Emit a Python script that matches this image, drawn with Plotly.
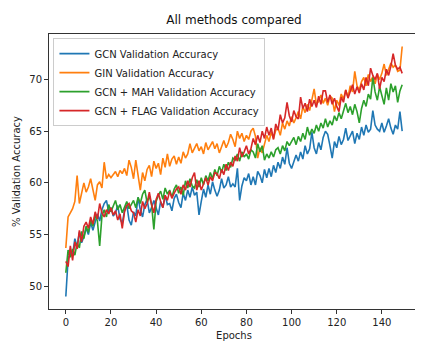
"""
Validation accuracy of four GNN variants over 150 training epochs.
"""

import plotly.graph_objects as go

# x axis: epochs 0..149
epochs = list(range(150))

gcn_acc = [
    49.0, 52.6, 53.4, 53.0, 54.6, 53.8, 55.2, 54.2, 54.8, 55.6,
    55.0, 56.2, 55.4, 56.1, 57.0, 56.3, 57.4, 58.0, 58.3, 57.2,
    57.6, 56.8, 57.1, 57.8, 56.5, 56.1, 57.3, 57.9, 56.4, 55.9,
    57.2, 56.8, 58.6, 57.4, 56.7, 57.9, 58.4, 57.1, 57.6, 58.3,
    57.7, 56.9, 58.2, 57.6, 58.8, 57.9, 58.0, 57.3, 58.5, 58.9,
    58.1, 57.6, 59.0, 58.3, 59.3, 58.6, 59.6, 58.8, 59.1, 56.9,
    58.2, 59.4, 58.6, 59.8, 58.9, 60.1, 59.3, 58.7, 59.3, 60.4,
    59.5, 59.8, 60.6, 59.6, 59.9, 59.6, 61.4, 58.3, 59.7, 60.5,
    60.2, 60.9, 59.8, 60.6, 59.8, 61.1, 60.7, 60.0, 61.3, 60.5,
    61.4, 60.6, 61.7, 61.0, 62.0, 61.4, 62.5, 61.8, 63.4, 61.9,
    61.4, 62.0, 62.7, 62.1, 63.0, 62.3, 63.6, 62.8, 63.3, 64.9,
    63.4, 62.8, 63.9, 63.2, 64.4, 65.0, 64.7, 63.6, 62.4, 64.0,
    63.4, 64.5, 63.7, 64.2, 65.3, 64.1, 64.6, 65.0, 63.8, 64.8,
    64.2, 65.4, 64.6, 65.6, 64.9, 65.2, 67.0, 65.6, 65.2, 65.0,
    65.8, 64.9, 65.5, 66.2, 65.3, 64.7, 65.6, 65.2, 66.9, 65.0,
]

gin_acc = [
    53.7, 56.7, 57.1, 57.5, 58.2, 60.7, 58.0, 59.2, 60.0, 59.1,
    59.6, 60.4, 59.2, 58.3, 59.8, 60.1, 59.5, 62.0, 60.4, 60.8,
    60.5, 60.8, 61.1, 60.6, 61.2, 60.9, 61.4, 60.7, 62.2, 61.5,
    60.4, 62.2, 60.9, 59.3, 61.0, 60.2, 61.3, 61.7, 60.6, 62.1,
    61.4, 61.9, 60.8, 62.4, 61.5, 62.8, 61.6, 62.3, 62.6, 61.8,
    62.5, 61.9, 63.0, 62.4, 62.8, 63.8, 62.9, 63.4, 63.8, 63.1,
    63.5, 62.8, 63.9, 63.2, 63.6, 64.0, 63.3, 63.8, 62.9, 63.6,
    64.1, 63.4, 63.9, 64.7, 64.2, 63.5, 65.0, 64.3, 64.8, 64.0,
    64.6, 64.2, 65.0, 65.3, 64.5, 62.4, 63.4, 62.9, 63.8, 64.6,
    64.0, 64.9, 64.3, 65.1, 65.3, 64.6, 65.8, 65.2, 66.0, 65.5,
    66.4, 65.8, 66.3, 66.9, 66.2, 67.4, 66.8, 67.6, 67.0, 68.0,
    69.1, 67.6, 67.9, 68.5, 67.7, 68.2, 67.5, 68.4, 68.2, 66.9,
    68.0, 67.5, 68.6, 68.1, 69.0, 68.3, 69.4, 68.8, 70.8, 69.4,
    69.0, 69.8, 70.2, 69.4, 70.5, 69.8, 70.3, 69.6, 70.5, 70.0,
    70.6, 71.5, 70.4, 71.0, 71.6, 71.2, 71.4, 70.8, 70.9, 73.2,
]

gcn_mah_acc = [
    51.3, 53.5, 52.8, 53.6, 53.0, 54.2, 53.7, 55.3, 54.6, 55.8,
    55.2, 56.4, 55.8, 56.9, 56.3, 53.9, 56.8, 57.4, 56.7, 57.9,
    57.2, 57.8, 58.3, 57.4, 57.9, 57.1, 57.6, 58.2, 57.5, 57.9,
    58.3, 57.6, 58.6, 58.0, 58.9, 59.3, 58.1, 58.7, 57.9, 55.5,
    58.2, 58.8, 59.2, 58.4, 59.5, 58.9, 59.3, 58.6, 59.4, 59.8,
    59.0, 59.6, 58.8, 60.2, 59.5, 60.4, 59.7, 59.5, 60.3, 59.6,
    60.5, 59.8, 60.7, 60.2, 61.0, 60.4, 61.3, 60.7, 61.6, 61.0,
    61.8, 61.2, 62.0, 61.5, 62.4, 62.2, 62.8, 62.1, 63.0, 62.5,
    62.8, 62.3, 63.2, 63.0, 62.4, 63.8, 63.0, 63.6, 62.2, 62.8,
    62.4, 63.0, 62.5, 63.2, 63.4, 62.8, 63.6, 63.1, 64.0, 63.6,
    64.0, 64.4, 63.7, 64.5, 64.0, 64.8, 64.2, 65.4, 64.6, 65.2,
    64.8, 65.6, 65.0, 65.8, 65.3, 66.2, 65.4, 66.0, 65.6, 66.5,
    66.0, 66.8, 66.2, 67.1, 67.7, 66.8, 67.4, 66.6, 67.6, 66.9,
    65.8, 67.2, 68.0, 67.4, 68.6, 68.1, 70.2, 68.8, 68.0, 69.3,
    68.4, 67.6, 69.2, 68.0, 69.6, 68.8, 69.4, 67.8, 68.9, 69.5,
]

gcn_flag_acc = [
    52.4, 51.9, 53.9, 52.5, 54.3, 53.6, 55.4, 54.3, 55.8, 56.2,
    55.6, 56.7, 56.0, 57.2, 56.5, 58.0, 57.1, 56.7, 57.4, 57.0,
    57.6, 56.9, 57.3, 56.4, 57.0, 55.6, 57.2, 57.8, 58.0, 57.3,
    57.1, 56.2, 57.4, 56.8, 58.2, 57.5, 58.0, 59.1, 57.9, 57.1,
    58.4, 59.0, 58.2, 57.6, 58.8, 58.3, 59.2, 58.5, 59.0, 59.4,
    59.6, 58.9, 59.8, 59.3, 60.2, 59.6, 60.5, 61.0, 59.3, 60.2,
    59.3, 60.0, 60.5, 59.8, 60.6, 60.2, 61.0, 60.9, 60.4, 61.3,
    60.8, 61.8, 61.2, 62.0, 61.6, 62.6, 62.1, 63.4, 62.5, 63.0,
    63.6, 62.8, 63.3, 64.3, 63.7, 64.6, 63.9, 65.0, 64.3, 65.4,
    64.6, 65.3, 64.2, 65.7, 65.1, 66.6, 65.8, 66.3, 67.8, 66.5,
    65.9, 67.0, 66.4, 66.2, 68.3, 67.2, 67.7, 66.9, 68.1, 67.4,
    68.0, 67.3, 68.4, 67.6, 68.9, 68.9, 67.8, 68.5, 67.6, 68.2,
    67.4, 66.9, 68.3, 67.8, 69.0, 68.2, 68.8, 69.5, 68.6, 69.3,
    68.7, 69.6, 69.0, 70.2, 69.4, 71.1, 70.4, 70.0, 70.6, 69.1,
    70.2, 69.8, 71.0, 70.4, 71.3, 72.5, 71.4, 71.0, 71.2, 70.6,
]

series_names = [
    "GCN Validation Accuracy",
    "GIN Validation Accuracy",
    "GCN + MAH Validation Accuracy",
    "GCN + FLAG Validation Accuracy",
]
series_values = [gcn_acc, gin_acc, gcn_mah_acc, gcn_flag_acc]
# matplotlib tab10 default cycle
colors = ["#1f77b4", "#ff7f0e", "#2ca02c", "#d62728"]

x_ticks = [0, 20, 40, 60, 80, 100, 120, 140]
y_ticks = [50, 55, 60, 65, 70]

fig = go.Figure()
for name, values, color in zip(series_names, series_values, colors):
    fig.add_trace(
        go.Scatter(
            x=epochs,
            y=values,
            mode="lines",
            name=name,
            line={"color": color, "width": 1.6},
        )
    )

# 5% padding like matplotlib autoscale
all_vals = [v for s in series_values for v in s]
y_lo, y_hi = min(all_vals), max(all_vals)
y_pad = (y_hi - y_lo) * 0.05
x_pad = (epochs[-1] - epochs[0]) * 0.05

font = "DejaVu Sans, Liberation Sans, sans-serif"
axis_common = {
    "showline": True,
    "mirror": True,
    "linecolor": "#333333",
    "linewidth": 1,
    "ticks": "outside",
    "ticklen": 4,
    "tickcolor": "#333333",
    "showgrid": False,
    "zeroline": False,
    "automargin": False,
    "tickfont": {"size": 10, "color": "#222222"},
}

# the page body keeps its default 8px margin, so the figure is 8px smaller
# than the 423x349 window on each axis
fig_w, fig_h = 415, 341

fig.update_layout(
    width=fig_w,
    height=fig_h,
    font={"family": font, "size": 10, "color": "#222222"},
    paper_bgcolor="white",
    plot_bgcolor="white",
    margin={"l": 41, "r": 4, "t": 26, "b": 40, "autoexpand": False},
    title={
        "text": "All methods compared",
        "x": 0.5,
        "xref": "paper",
        "xanchor": "center",
        "y": 1 - 12 / fig_h,
        "yanchor": "middle",
        "font": {"size": 12, "color": "#111111"},
    },
    xaxis={
        **axis_common,
        "range": [epochs[0] - x_pad, epochs[-1] + x_pad],
        "tickvals": x_ticks,
        "title": {"text": "Epochs", "font": {"size": 10}, "standoff": 4},
    },
    yaxis={
        **axis_common,
        "range": [y_lo - y_pad, y_hi + y_pad],
        "tickvals": y_ticks,
        "title": {"text": "% Validation Accuracy", "font": {"size": 10}, "standoff": 6},
    },
    legend={
        "x": 0.012,
        "y": 0.985,
        "xanchor": "left",
        "yanchor": "top",
        "bgcolor": "rgba(255,255,255,0.85)",
        "bordercolor": "#cccccc",
        "borderwidth": 1,
        "font": {"size": 10, "color": "#222222"},
        "itemwidth": 30,
        "tracegroupgap": 0,
    },
    showlegend=True,
)

fig.write_html("out.html")
